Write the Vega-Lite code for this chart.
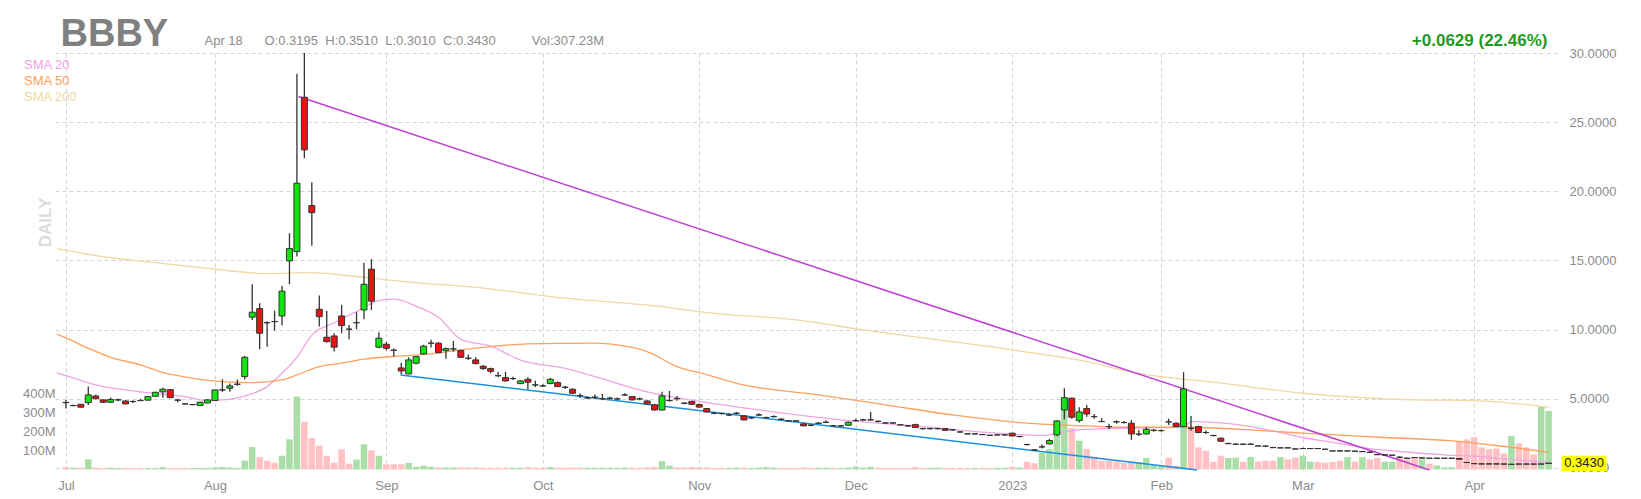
{
"$schema":"https://vega.github.io/schema/vega-lite/v6.json",
"width":1505,"height":417,
"autosize":{"type":"none"},
"padding":{"left":52,"top":53,"right":84,"bottom":29},
"background":"white",
"config":{"view":{"stroke":null},"font":"Liberation Sans"},
"datasets":{
"ohlc":[
{"i":0,"o":4.74,"h":4.92,"l":4.30,"c":4.72,"v":12,"u":0},
{"i":1,"o":4.51,"h":4.58,"l":4.45,"c":4.51,"v":9,"u":1},
{"i":2,"o":4.60,"h":4.63,"l":4.37,"c":4.39,"v":9,"u":0},
{"i":3,"o":4.72,"h":5.88,"l":4.55,"c":5.28,"v":53,"u":1},
{"i":4,"o":5.20,"h":5.30,"l":4.95,"c":5.01,"v":10,"u":0},
{"i":5,"o":4.92,"h":4.95,"l":4.70,"c":4.75,"v":7,"u":0},
{"i":6,"o":4.75,"h":5.10,"l":4.70,"c":4.95,"v":9,"u":1},
{"i":7,"o":4.92,"h":5.02,"l":4.82,"c":4.92,"v":7,"u":1},
{"i":8,"o":4.84,"h":4.88,"l":4.60,"c":4.63,"v":7,"u":0},
{"i":9,"o":4.80,"h":4.90,"l":4.70,"c":4.80,"v":7,"u":0},
{"i":10,"o":4.87,"h":5.00,"l":4.87,"c":4.87,"v":7,"u":0},
{"i":11,"o":4.90,"h":5.20,"l":4.88,"c":5.16,"v":7,"u":1},
{"i":12,"o":5.18,"h":5.50,"l":5.15,"c":5.47,"v":7,"u":1},
{"i":13,"o":5.50,"h":5.80,"l":5.08,"c":5.69,"v":12,"u":1},
{"i":14,"o":5.66,"h":5.70,"l":5.05,"c":5.08,"v":7,"u":0},
{"i":15,"o":4.90,"h":5.00,"l":4.75,"c":4.90,"v":7,"u":0},
{"i":16,"o":4.63,"h":4.68,"l":4.58,"c":4.63,"v":7,"u":0},
{"i":17,"o":4.58,"h":4.62,"l":4.52,"c":4.58,"v":7,"u":1},
{"i":18,"o":4.51,"h":4.78,"l":4.48,"c":4.75,"v":7,"u":1},
{"i":19,"o":4.70,"h":4.96,"l":4.68,"c":4.92,"v":8,"u":1},
{"i":20,"o":4.87,"h":5.66,"l":4.85,"c":5.64,"v":10,"u":1},
{"i":21,"o":5.64,"h":6.41,"l":5.50,"c":5.64,"v":13,"u":1},
{"i":22,"o":5.76,"h":6.10,"l":5.50,"c":5.93,"v":10,"u":1},
{"i":23,"o":6.05,"h":6.40,"l":5.95,"c":6.05,"v":7,"u":1},
{"i":24,"o":6.60,"h":8.10,"l":6.40,"c":8.00,"v":46,"u":1},
{"i":25,"o":10.90,"h":13.28,"l":10.70,"c":11.26,"v":118,"u":1},
{"i":26,"o":11.52,"h":11.90,"l":8.58,"c":9.74,"v":65,"u":0},
{"i":27,"o":10.50,"h":10.60,"l":8.77,"c":10.50,"v":46,"u":0},
{"i":28,"o":10.58,"h":11.37,"l":9.93,"c":10.58,"v":35,"u":0},
{"i":29,"o":10.99,"h":13.16,"l":10.30,"c":12.78,"v":72,"u":1},
{"i":30,"o":14.97,"h":16.97,"l":13.28,"c":15.86,"v":158,"u":1},
{"i":31,"o":15.64,"h":28.50,"l":15.28,"c":20.59,"v":383,"u":1},
{"i":32,"o":26.80,"h":30.00,"l":22.39,"c":23.00,"v":251,"u":0},
{"i":33,"o":18.97,"h":20.66,"l":16.07,"c":18.46,"v":165,"u":0},
{"i":34,"o":11.47,"h":12.46,"l":10.22,"c":10.94,"v":125,"u":0},
{"i":35,"o":9.45,"h":11.35,"l":9.06,"c":9.13,"v":72,"u":0},
{"i":36,"o":9.54,"h":9.74,"l":8.41,"c":8.73,"v":35,"u":0},
{"i":37,"o":10.99,"h":11.79,"l":9.74,"c":10.29,"v":106,"u":0},
{"i":38,"o":10.03,"h":10.34,"l":9.30,"c":10.03,"v":30,"u":0},
{"i":39,"o":10.50,"h":11.26,"l":10.03,"c":10.50,"v":52,"u":1},
{"i":40,"o":11.42,"h":14.84,"l":10.75,"c":13.28,"v":132,"u":1},
{"i":41,"o":14.37,"h":15.09,"l":11.42,"c":12.06,"v":100,"u":0},
{"i":42,"o":8.73,"h":9.81,"l":8.65,"c":9.38,"v":72,"u":1},
{"i":43,"o":8.94,"h":9.10,"l":8.50,"c":8.65,"v":27,"u":0},
{"i":44,"o":8.51,"h":8.63,"l":8.05,"c":8.51,"v":27,"u":0},
{"i":45,"o":7.23,"h":7.61,"l":6.78,"c":7.01,"v":27,"u":0},
{"i":46,"o":6.80,"h":8.00,"l":6.78,"c":7.81,"v":34,"u":1},
{"i":47,"o":7.57,"h":8.10,"l":7.50,"c":8.05,"v":14,"u":1},
{"i":48,"o":8.24,"h":8.90,"l":8.20,"c":8.80,"v":20,"u":1},
{"i":49,"o":9.02,"h":9.26,"l":8.70,"c":9.02,"v":14,"u":1},
{"i":50,"o":9.02,"h":9.10,"l":8.30,"c":8.34,"v":10,"u":0},
{"i":51,"o":8.48,"h":8.70,"l":7.90,"c":8.63,"v":10,"u":1},
{"i":52,"o":8.60,"h":9.18,"l":8.41,"c":8.60,"v":10,"u":1},
{"i":53,"o":8.48,"h":8.55,"l":7.95,"c":8.00,"v":10,"u":0},
{"i":54,"o":7.93,"h":8.20,"l":7.80,"c":7.93,"v":10,"u":0},
{"i":55,"o":7.81,"h":8.00,"l":7.50,"c":7.54,"v":10,"u":0},
{"i":56,"o":7.35,"h":7.45,"l":7.10,"c":7.18,"v":9,"u":0},
{"i":57,"o":7.18,"h":7.25,"l":6.85,"c":6.99,"v":9,"u":0},
{"i":58,"o":6.67,"h":6.95,"l":6.55,"c":6.67,"v":9,"u":0},
{"i":59,"o":6.53,"h":6.95,"l":6.25,"c":6.29,"v":9,"u":0},
{"i":60,"o":6.46,"h":6.60,"l":6.35,"c":6.46,"v":9,"u":1},
{"i":61,"o":6.10,"h":6.35,"l":6.05,"c":6.29,"v":9,"u":1},
{"i":62,"o":6.41,"h":6.55,"l":5.69,"c":6.20,"v":12,"u":0},
{"i":63,"o":6.00,"h":6.30,"l":5.85,"c":6.00,"v":9,"u":0},
{"i":64,"o":5.93,"h":6.05,"l":5.85,"c":5.93,"v":9,"u":0},
{"i":65,"o":6.10,"h":6.50,"l":6.05,"c":6.41,"v":12,"u":1},
{"i":66,"o":6.17,"h":6.25,"l":5.85,"c":5.88,"v":9,"u":0},
{"i":67,"o":5.83,"h":5.95,"l":5.70,"c":5.83,"v":9,"u":0},
{"i":68,"o":5.69,"h":5.75,"l":5.35,"c":5.40,"v":9,"u":0},
{"i":69,"o":5.23,"h":5.40,"l":5.05,"c":5.23,"v":9,"u":0},
{"i":70,"o":5.06,"h":5.18,"l":4.98,"c":5.06,"v":9,"u":1},
{"i":71,"o":5.11,"h":5.30,"l":5.00,"c":5.11,"v":9,"u":1},
{"i":72,"o":5.01,"h":5.35,"l":4.90,"c":5.01,"v":9,"u":1},
{"i":73,"o":5.04,"h":5.15,"l":4.95,"c":5.04,"v":9,"u":1},
{"i":74,"o":4.99,"h":5.10,"l":4.92,"c":4.99,"v":9,"u":1},
{"i":75,"o":5.28,"h":5.40,"l":5.20,"c":5.28,"v":9,"u":1},
{"i":76,"o":5.16,"h":5.20,"l":4.90,"c":4.92,"v":9,"u":0},
{"i":77,"o":4.99,"h":5.10,"l":4.90,"c":4.99,"v":9,"u":0},
{"i":78,"o":4.84,"h":4.90,"l":4.60,"c":4.63,"v":11,"u":0},
{"i":79,"o":4.56,"h":4.62,"l":4.15,"c":4.19,"v":12,"u":0},
{"i":80,"o":4.19,"h":5.50,"l":4.15,"c":5.21,"v":44,"u":1},
{"i":81,"o":4.87,"h":5.57,"l":4.80,"c":4.87,"v":20,"u":1},
{"i":82,"o":5.01,"h":5.20,"l":4.85,"c":5.01,"v":10,"u":0},
{"i":83,"o":4.68,"h":4.75,"l":4.60,"c":4.68,"v":10,"u":0},
{"i":84,"o":4.80,"h":4.85,"l":4.55,"c":4.60,"v":12,"u":0},
{"i":85,"o":4.58,"h":4.65,"l":4.35,"c":4.40,"v":10,"u":0},
{"i":86,"o":4.29,"h":4.33,"l":4.00,"c":4.05,"v":10,"u":0},
{"i":87,"o":3.95,"h":4.02,"l":3.88,"c":3.95,"v":8,"u":0},
{"i":88,"o":3.93,"h":4.00,"l":3.86,"c":3.93,"v":8,"u":0},
{"i":89,"o":3.83,"h":3.95,"l":3.75,"c":3.83,"v":8,"u":1},
{"i":90,"o":3.95,"h":4.05,"l":3.88,"c":3.95,"v":9,"u":1},
{"i":91,"o":3.76,"h":3.80,"l":3.45,"c":3.47,"v":9,"u":0},
{"i":92,"o":3.62,"h":3.70,"l":3.55,"c":3.62,"v":8,"u":1},
{"i":93,"o":3.83,"h":3.95,"l":3.75,"c":3.83,"v":10,"u":1},
{"i":94,"o":3.64,"h":3.72,"l":3.55,"c":3.64,"v":12,"u":1},
{"i":95,"o":3.71,"h":3.80,"l":3.65,"c":3.71,"v":9,"u":1},
{"i":96,"o":3.52,"h":3.60,"l":3.45,"c":3.52,"v":8,"u":0},
{"i":97,"o":3.40,"h":3.44,"l":3.36,"c":3.40,"v":8,"u":0},
{"i":98,"o":3.40,"h":3.44,"l":3.36,"c":3.40,"v":8,"u":0},
{"i":99,"o":3.18,"h":3.22,"l":3.02,"c":3.04,"v":10,"u":0},
{"i":100,"o":3.09,"h":3.15,"l":3.02,"c":3.09,"v":8,"u":0},
{"i":101,"o":3.23,"h":3.30,"l":3.18,"c":3.23,"v":9,"u":1},
{"i":102,"o":3.30,"h":3.45,"l":3.28,"c":3.30,"v":9,"u":1},
{"i":103,"o":3.04,"h":3.10,"l":2.98,"c":3.04,"v":8,"u":0},
{"i":104,"o":3.04,"h":3.10,"l":2.98,"c":3.04,"v":8,"u":1},
{"i":105,"o":3.09,"h":3.35,"l":3.05,"c":3.30,"v":10,"u":1},
{"i":106,"o":3.42,"h":3.55,"l":3.35,"c":3.42,"v":15,"u":1},
{"i":107,"o":3.47,"h":3.55,"l":3.42,"c":3.47,"v":10,"u":1},
{"i":108,"o":3.47,"h":4.05,"l":3.42,"c":3.47,"v":14,"u":1},
{"i":109,"o":3.37,"h":3.42,"l":3.28,"c":3.37,"v":8,"u":0},
{"i":110,"o":3.25,"h":3.30,"l":3.20,"c":3.25,"v":8,"u":0},
{"i":111,"o":3.25,"h":3.30,"l":3.20,"c":3.25,"v":8,"u":0},
{"i":112,"o":3.11,"h":3.15,"l":3.08,"c":3.11,"v":8,"u":0},
{"i":113,"o":3.04,"h":3.10,"l":2.98,"c":3.04,"v":8,"u":0},
{"i":114,"o":3.13,"h":3.20,"l":2.88,"c":2.92,"v":12,"u":0},
{"i":115,"o":2.84,"h":2.90,"l":2.78,"c":2.84,"v":8,"u":0},
{"i":116,"o":2.84,"h":2.90,"l":2.78,"c":2.84,"v":8,"u":1},
{"i":117,"o":2.84,"h":2.90,"l":2.78,"c":2.84,"v":10,"u":1},
{"i":118,"o":2.84,"h":2.88,"l":2.70,"c":2.72,"v":8,"u":0},
{"i":119,"o":2.75,"h":2.82,"l":2.70,"c":2.75,"v":8,"u":0},
{"i":120,"o":2.60,"h":2.66,"l":2.55,"c":2.60,"v":8,"u":0},
{"i":121,"o":2.46,"h":2.50,"l":2.43,"c":2.46,"v":8,"u":0},
{"i":122,"o":2.46,"h":2.50,"l":2.43,"c":2.46,"v":8,"u":1},
{"i":123,"o":2.41,"h":2.45,"l":2.38,"c":2.41,"v":8,"u":0},
{"i":124,"o":2.36,"h":2.40,"l":2.33,"c":2.36,"v":8,"u":0},
{"i":125,"o":2.39,"h":2.43,"l":2.35,"c":2.39,"v":8,"u":1},
{"i":126,"o":2.39,"h":2.43,"l":2.35,"c":2.39,"v":9,"u":1},
{"i":127,"o":2.51,"h":2.55,"l":2.28,"c":2.31,"v":14,"u":0},
{"i":128,"o":2.27,"h":2.32,"l":2.20,"c":2.27,"v":10,"u":1},
{"i":129,"o":1.69,"h":1.75,"l":1.62,"c":1.69,"v":40,"u":0},
{"i":130,"o":1.30,"h":1.35,"l":1.27,"c":1.30,"v":32,"u":0},
{"i":131,"o":1.52,"h":1.70,"l":1.40,"c":1.52,"v":88,"u":1},
{"i":132,"o":1.74,"h":2.10,"l":1.70,"c":1.98,"v":106,"u":1},
{"i":133,"o":2.39,"h":3.45,"l":2.30,"c":3.40,"v":200,"u":1},
{"i":134,"o":4.19,"h":5.76,"l":3.52,"c":5.08,"v":320,"u":1},
{"i":135,"o":5.04,"h":5.10,"l":3.55,"c":3.67,"v":217,"u":0},
{"i":136,"o":3.42,"h":4.39,"l":3.28,"c":4.05,"v":151,"u":1},
{"i":137,"o":4.29,"h":4.55,"l":3.70,"c":3.90,"v":107,"u":0},
{"i":138,"o":3.71,"h":3.90,"l":3.55,"c":3.71,"v":67,"u":0},
{"i":139,"o":3.35,"h":3.60,"l":3.33,"c":3.35,"v":46,"u":0},
{"i":140,"o":2.99,"h":3.20,"l":2.80,"c":2.99,"v":46,"u":0},
{"i":141,"o":3.33,"h":3.45,"l":3.20,"c":3.33,"v":42,"u":0},
{"i":142,"o":3.28,"h":3.40,"l":3.22,"c":3.28,"v":34,"u":0},
{"i":143,"o":3.23,"h":3.47,"l":2.03,"c":2.46,"v":42,"u":0},
{"i":144,"o":2.44,"h":2.75,"l":2.30,"c":2.44,"v":38,"u":1},
{"i":145,"o":2.46,"h":2.95,"l":2.40,"c":2.79,"v":60,"u":1},
{"i":146,"o":2.72,"h":2.80,"l":2.62,"c":2.72,"v":22,"u":1},
{"i":147,"o":2.70,"h":2.78,"l":2.62,"c":2.70,"v":20,"u":1},
{"i":148,"o":3.33,"h":3.55,"l":3.10,"c":3.33,"v":62,"u":0},
{"i":149,"o":3.23,"h":3.30,"l":2.95,"c":2.99,"v":20,"u":0},
{"i":150,"o":2.99,"h":6.92,"l":2.95,"c":5.71,"v":290,"u":1},
{"i":151,"o":2.87,"h":3.75,"l":2.70,"c":2.87,"v":220,"u":0},
{"i":152,"o":2.99,"h":3.05,"l":2.50,"c":2.56,"v":116,"u":0},
{"i":153,"o":2.56,"h":2.70,"l":2.45,"c":2.56,"v":98,"u":0},
{"i":154,"o":2.34,"h":2.40,"l":2.28,"c":2.34,"v":40,"u":0},
{"i":155,"o":2.15,"h":2.20,"l":1.88,"c":1.93,"v":72,"u":0},
{"i":156,"o":1.76,"h":1.82,"l":1.72,"c":1.76,"v":60,"u":1},
{"i":157,"o":1.71,"h":1.80,"l":1.70,"c":1.71,"v":62,"u":1},
{"i":158,"o":1.71,"h":1.76,"l":1.66,"c":1.71,"v":40,"u":0},
{"i":159,"o":1.71,"h":1.80,"l":1.70,"c":1.71,"v":65,"u":1},
{"i":160,"o":1.59,"h":1.62,"l":1.56,"c":1.59,"v":42,"u":0},
{"i":161,"o":1.57,"h":1.63,"l":1.52,"c":1.57,"v":46,"u":0},
{"i":162,"o":1.47,"h":1.53,"l":1.46,"c":1.47,"v":46,"u":0},
{"i":163,"o":1.45,"h":1.51,"l":1.44,"c":1.45,"v":65,"u":1},
{"i":164,"o":1.45,"h":1.48,"l":1.42,"c":1.45,"v":53,"u":0},
{"i":165,"o":1.37,"h":1.43,"l":1.36,"c":1.37,"v":62,"u":0},
{"i":166,"o":1.40,"h":1.46,"l":1.39,"c":1.40,"v":72,"u":1},
{"i":167,"o":1.40,"h":1.43,"l":1.37,"c":1.40,"v":41,"u":1},
{"i":168,"o":1.40,"h":1.43,"l":1.37,"c":1.40,"v":39,"u":0},
{"i":169,"o":1.35,"h":1.38,"l":1.33,"c":1.35,"v":35,"u":0},
{"i":170,"o":1.23,"h":1.26,"l":1.21,"c":1.23,"v":39,"u":0},
{"i":171,"o":1.23,"h":1.26,"l":1.21,"c":1.23,"v":46,"u":0},
{"i":172,"o":1.23,"h":1.26,"l":1.21,"c":1.23,"v":65,"u":1},
{"i":173,"o":1.21,"h":1.24,"l":1.19,"c":1.21,"v":41,"u":0},
{"i":174,"o":1.18,"h":1.21,"l":1.16,"c":1.18,"v":65,"u":1},
{"i":175,"o":1.13,"h":1.20,"l":1.08,"c":1.13,"v":53,"u":0},
{"i":176,"o":0.96,"h":0.99,"l":0.94,"c":0.96,"v":60,"u":0},
{"i":177,"o":0.94,"h":0.97,"l":0.92,"c":0.94,"v":41,"u":1},
{"i":178,"o":0.92,"h":0.95,"l":0.90,"c":0.92,"v":41,"u":1},
{"i":179,"o":0.77,"h":0.85,"l":0.72,"c":0.77,"v":62,"u":0},
{"i":180,"o":0.70,"h":0.73,"l":0.68,"c":0.70,"v":53,"u":0},
{"i":181,"o":0.75,"h":0.78,"l":0.72,"c":0.75,"v":62,"u":0},
{"i":182,"o":0.72,"h":0.75,"l":0.70,"c":0.72,"v":53,"u":1},
{"i":183,"o":0.70,"h":0.73,"l":0.68,"c":0.70,"v":30,"u":0},
{"i":184,"o":0.70,"h":0.73,"l":0.68,"c":0.70,"v":21,"u":1},
{"i":185,"o":0.70,"h":0.72,"l":0.68,"c":0.70,"v":11,"u":1},
{"i":186,"o":0.70,"h":0.72,"l":0.67,"c":0.70,"v":12,"u":1},
{"i":187,"o":0.68,"h":0.70,"l":0.60,"c":0.63,"v":149,"u":0},
{"i":188,"o":0.39,"h":0.45,"l":0.35,"c":0.39,"v":158,"u":0},
{"i":189,"o":0.31,"h":0.36,"l":0.29,"c":0.31,"v":170,"u":0},
{"i":190,"o":0.29,"h":0.31,"l":0.27,"c":0.29,"v":116,"u":0},
{"i":191,"o":0.29,"h":0.31,"l":0.27,"c":0.29,"v":106,"u":0},
{"i":192,"o":0.29,"h":0.31,"l":0.27,"c":0.29,"v":110,"u":0},
{"i":193,"o":0.28,"h":0.30,"l":0.27,"c":0.28,"v":84,"u":0},
{"i":194,"o":0.26,"h":0.30,"l":0.26,"c":0.26,"v":177,"u":1},
{"i":195,"o":0.28,"h":0.30,"l":0.27,"c":0.28,"v":137,"u":0},
{"i":196,"o":0.28,"h":0.30,"l":0.27,"c":0.28,"v":116,"u":0},
{"i":197,"o":0.28,"h":0.29,"l":0.26,"c":0.28,"v":79,"u":0},
{"i":198,"o":0.28,"h":0.32,"l":0.27,"c":0.28,"v":330,"u":1},
{"i":199,"o":0.3195,"h":0.351,"l":0.301,"c":0.343,"v":307.23,"u":1}
],
"sma":[
{"s":"SMA 20","i":-1.2,"p":6.87},{"s":"SMA 20","i":0,"p":6.67},{"s":"SMA 20","i":4,"p":6.0},{"s":"SMA 20","i":10,"p":5.5},{"s":"SMA 20","i":16,"p":5.16},{"s":"SMA 20","i":19,"p":4.87},{"s":"SMA 20","i":21,"p":4.92},{"s":"SMA 20","i":24,"p":5.2},{"s":"SMA 20","i":27,"p":5.88},{"s":"SMA 20","i":29,"p":6.85},{"s":"SMA 20","i":31,"p":8.0},{"s":"SMA 20","i":33,"p":9.6},{"s":"SMA 20","i":36,"p":10.5},{"s":"SMA 20","i":39,"p":11.3},{"s":"SMA 20","i":42,"p":12.1},{"s":"SMA 20","i":44,"p":12.2},{"s":"SMA 20","i":47,"p":11.7},{"s":"SMA 20","i":50,"p":10.9},{"s":"SMA 20","i":53,"p":9.3},{"s":"SMA 20","i":57,"p":8.8},{"s":"SMA 20","i":61,"p":7.8},{"s":"SMA 20","i":67,"p":7.2},{"s":"SMA 20","i":71,"p":6.6},{"s":"SMA 20","i":78,"p":5.5},{"s":"SMA 20","i":84,"p":4.9},{"s":"SMA 20","i":93,"p":4.19},{"s":"SMA 20","i":105,"p":3.42},{"s":"SMA 20","i":115,"p":2.99},{"s":"SMA 20","i":124,"p":2.55},{"s":"SMA 20","i":131,"p":2.35},{"s":"SMA 20","i":135,"p":2.7},{"s":"SMA 20","i":140,"p":2.85},{"s":"SMA 20","i":145,"p":2.9},{"s":"SMA 20","i":150,"p":2.95},{"s":"SMA 20","i":151,"p":3.35},{"s":"SMA 20","i":155,"p":3.25},{"s":"SMA 20","i":160,"p":2.9},{"s":"SMA 20","i":166,"p":2.2},{"s":"SMA 20","i":170,"p":1.85},{"s":"SMA 20","i":175,"p":1.4},{"s":"SMA 20","i":180,"p":1.15},{"s":"SMA 20","i":185,"p":0.95},{"s":"SMA 20","i":189,"p":0.85},{"s":"SMA 20","i":194,"p":0.6},{"s":"SMA 20","i":199,"p":0.42},
{"s":"SMA 50","i":-1.2,"p":9.65},{"s":"SMA 50","i":0,"p":9.4},{"s":"SMA 50","i":3,"p":8.65},{"s":"SMA 50","i":6,"p":8.0},{"s":"SMA 50","i":10,"p":7.45},{"s":"SMA 50","i":13,"p":6.9},{"s":"SMA 50","i":17,"p":6.48},{"s":"SMA 50","i":21,"p":6.24},{"s":"SMA 50","i":25,"p":6.17},{"s":"SMA 50","i":29,"p":6.36},{"s":"SMA 50","i":31,"p":6.72},{"s":"SMA 50","i":34,"p":7.33},{"s":"SMA 50","i":37,"p":7.57},{"s":"SMA 50","i":40,"p":7.86},{"s":"SMA 50","i":45,"p":8.1},{"s":"SMA 50","i":49,"p":8.24},{"s":"SMA 50","i":53,"p":8.53},{"s":"SMA 50","i":58,"p":8.82},{"s":"SMA 50","i":62,"p":8.97},{"s":"SMA 50","i":71,"p":9.02},{"s":"SMA 50","i":74,"p":8.89},{"s":"SMA 50","i":78,"p":8.41},{"s":"SMA 50","i":82,"p":7.33},{"s":"SMA 50","i":86,"p":6.75},{"s":"SMA 50","i":90,"p":6.12},{"s":"SMA 50","i":101,"p":5.28},{"s":"SMA 50","i":110,"p":4.56},{"s":"SMA 50","i":119,"p":3.83},{"s":"SMA 50","i":128,"p":3.28},{"s":"SMA 50","i":137,"p":3.04},{"s":"SMA 50","i":142,"p":2.94},{"s":"SMA 50","i":150,"p":2.94},{"s":"SMA 50","i":159,"p":2.75},{"s":"SMA 50","i":166,"p":2.51},{"s":"SMA 50","i":177,"p":2.2},{"s":"SMA 50","i":186,"p":1.95},{"s":"SMA 50","i":192,"p":1.62},{"s":"SMA 50","i":199,"p":1.12},
{"s":"SMA 200","i":-1.2,"p":15.85},{"s":"SMA 200","i":0,"p":15.75},{"s":"SMA 200","i":3,"p":15.45},{"s":"SMA 200","i":12,"p":14.84},{"s":"SMA 200","i":20,"p":14.37},{"s":"SMA 200","i":27,"p":14.05},{"s":"SMA 200","i":33,"p":14.12},{"s":"SMA 200","i":37,"p":13.95},{"s":"SMA 200","i":43,"p":13.6},{"s":"SMA 200","i":48,"p":13.35},{"s":"SMA 200","i":54,"p":13.11},{"s":"SMA 200","i":67,"p":12.27},{"s":"SMA 200","i":80,"p":11.66},{"s":"SMA 200","i":86,"p":11.23},{"s":"SMA 200","i":98,"p":10.7},{"s":"SMA 200","i":107,"p":9.98},{"s":"SMA 200","i":127,"p":8.53},{"s":"SMA 200","i":138,"p":7.57},{"s":"SMA 200","i":142,"p":7.04},{"s":"SMA 200","i":147,"p":6.6},{"s":"SMA 200","i":154,"p":6.2},{"s":"SMA 200","i":166,"p":5.4},{"s":"SMA 200","i":181,"p":4.92},{"s":"SMA 200","i":189,"p":4.87},{"s":"SMA 200","i":199,"p":4.38}
],
"trend":[
{"t":"a","i":31.2,"p":26.85},{"t":"a","i":183.0,"p":-0.15},
{"t":"b","i":44.9,"p":6.72},{"t":"b","i":151.8,"p":-0.15}
]
},
"layer":[
{
"data":{"name":"ohlc"},
"mark":{"type":"bar","size":6.5},
"encoding":{
"x":{"field":"i","type":"quantitative","scale":{"domain":[-1.2,199.45],"nice":false,"zero":false},
"axis":{"orient":"top","labels":false,"ticks":false,"domain":false,"grid":false,"title":"BBBY","titleX":8,"titleY":-7.5,"titleAlign":"left","titleAnchor":"start","titleBaseline":"alphabetic","titleAngle":0,"titleFontSize":38,"titleFontWeight":"bold","titleColor":"#808080"}},
"y":{"field":"v","type":"quantitative","scale":{"domain":[-3,2190],"nice":false,"zero":false},
"axis":{"orient":"left","values":[100,200,300,400],"labelExpr":"datum.value + 'M'","grid":false,"ticks":false,"domain":false,"labelPadding":-3,"labelFontSize":13,"labelColor":"#8c8c8c","title":"DAILY","titleX":-2,"titleY":169,"titleAngle":-90,"titleAlign":"center","titleBaseline":"alphabetic","titleFontSize":17,"titleFontWeight":"bold","titleColor":"#dcdcdc"}},
"y2":{"datum":0},
"fill":{"condition":{"test":"datum.u == 1","value":"#a9dfa6"},"value":"#ffc1c1"}
}
},
{
"layer":[
{
"data":{"name":"sma"},
"mark":{"type":"line","strokeWidth":1.3,"interpolate":"monotone"},
"encoding":{
"x":{"field":"i","type":"quantitative","scale":{"domain":[-1.2,199.45],"nice":false,"zero":false}},
"y":{"field":"p","type":"quantitative","scale":{"domain":[-0.15,30],"nice":false,"zero":false}},
"color":{"field":"s","type":"nominal","scale":{"domain":["SMA 20","SMA 50","SMA 200"],"range":["#f0a3e3","#ffa05c","#f0d9a3"]},
"legend":{"orient":"none","legendX":-41,"legendY":5.5,"title":null,"symbolSize":0,"symbolStrokeWidth":0,"symbolOpacity":0,"labelOffset":0,"labelFontSize":13,"rowPadding":2,"encode":{"labels":{"update":{"fill":{"scale":"color","field":"value"}}}}}}
}
},
{
"data":{"name":"trend"},
"mark":{"type":"line","strokeWidth":1.5},
"encoding":{
"x":{"field":"i","type":"quantitative","scale":{"domain":[-1.2,199.45],"nice":false,"zero":false}},
"y":{"field":"p","type":"quantitative","scale":{"domain":[-0.15,30],"nice":false,"zero":false}},
"stroke":{"field":"t","type":"nominal","scale":{"domain":["a","b"],"range":["#bd3fd4","#1b8fe0"]},"legend":null}
}
},
{
"data":{"name":"ohlc"},
"mark":{"type":"rule","color":"#333333","strokeWidth":1.3},
"encoding":{
"x":{"field":"i","type":"quantitative","scale":{"domain":[-1.2,199.45],"nice":false,"zero":false},
"axis":{"orient":"bottom","values":[0,20,43,64,85,106,127,147,166,189],"labelExpr":"datum.value==0?'Jul':datum.value==20?'Aug':datum.value==43?'Sep':datum.value==64?'Oct':datum.value==85?'Nov':datum.value==106?'Dec':datum.value==127?'2023':datum.value==147?'Feb':datum.value==166?'Mar':'Apr'","grid":true,"gridDash":[4,3],"gridColor":"#d4d4d4","ticks":false,"domain":false,"labelPadding":9,"labelFontSize":13,"labelColor":"#8c8c8c","title":"Apr 18\u00a0\u00a0\u00a0\u00a0\u00a0\u00a0O:0.3195\u00a0\u00a0H:0.3510\u00a0\u00a0L:0.3010\u00a0\u00a0C:0.3430\u00a0\u00a0\u00a0\u00a0\u00a0\u00a0\u00a0\u00a0\u00a0\u00a0Vol:307.23M","titleX":152,"titleY":-425.3,"titleAlign":"left","titleAnchor":"start","titleBaseline":"alphabetic","titleFontSize":13,"titleFontWeight":"normal","titleColor":"#8c8c8c"}},
"y":{"field":"l","type":"quantitative","scale":{"domain":[-0.15,30],"nice":false,"zero":false},
"axis":{"orient":"right","values":[0,5,10,15,20,25,30],"format":".4f","grid":true,"gridDash":[4,3],"gridColor":"#d4d4d4","ticks":false,"domain":false,"labelPadding":12,"labelFontSize":13,"labelColor":"#8c8c8c","title":"+0.0629 (22.46%)","titleX":-10,"titleY":-7.3,"titleAngle":0,"titleAlign":"right","titleBaseline":"alphabetic","titleFontSize":17,"titleFontWeight":"bold","titleColor":"#1f9a1f"}},
"y2":{"field":"h"}
}
},
{
"data":{"name":"ohlc"},
"mark":{"type":"bar","size":6,"stroke":"#333333","strokeWidth":1},
"encoding":{
"x":{"field":"i","type":"quantitative","scale":{"domain":[-1.2,199.45],"nice":false,"zero":false}},
"y":{"field":"o","type":"quantitative","scale":{"domain":[-0.15,30],"nice":false,"zero":false}},
"y2":{"field":"c"},
"fill":{"condition":{"test":"datum.c > datum.o","value":"#0ee60e"},"value":"#ee1111"}
}
},
{
"data":{"name":"ohlc"},
"transform":[{"filter":"datum.i == 199"}],
"mark":{"type":"point","shape":"M13,-7.5H58V7.8H13Z","size":4,"filled":true,"fill":"#ffff00","opacity":1,"strokeWidth":0},
"encoding":{
"x":{"field":"i","type":"quantitative","scale":{"domain":[-1.2,199.45],"nice":false,"zero":false}},
"y":{"field":"c","type":"quantitative","scale":{"domain":[-0.15,30],"nice":false,"zero":false}}
}
},
{
"data":{"name":"ohlc"},
"transform":[{"filter":"datum.i == 199"}],
"mark":{"type":"text","dx":15.5,"align":"left","baseline":"middle","fontSize":13,"color":"#222222"},
"encoding":{
"x":{"field":"i","type":"quantitative","scale":{"domain":[-1.2,199.45],"nice":false,"zero":false}},
"y":{"field":"c","type":"quantitative","scale":{"domain":[-0.15,30],"nice":false,"zero":false}},
"text":{"field":"c","type":"quantitative","format":".4f"}
}
}
]
}
],
"resolve":{"scale":{"y":"independent"},"axis":{"x":"independent"}}
}
